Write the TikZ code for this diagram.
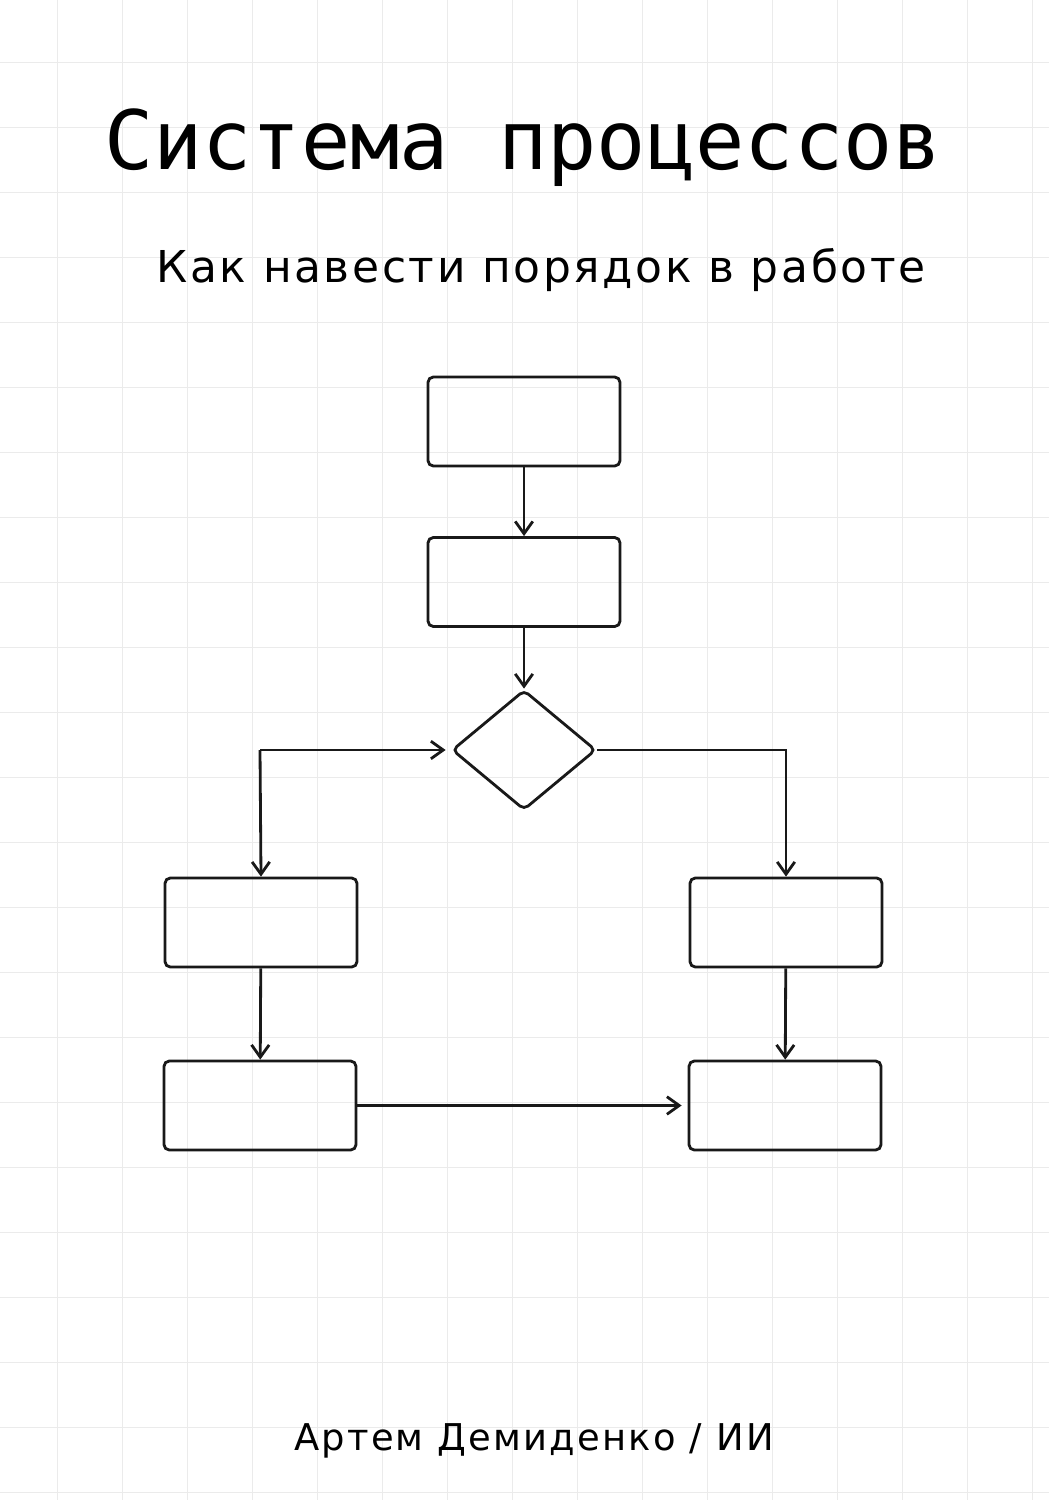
\documentclass[tikz,border=0pt]{standalone}
\usepackage{fontspec}
\setmainfont{DejaVu Sans}
\newfontfamily\monof{DejaVu Sans Mono}
\newfontfamily\spacedf[LetterSpace=6]{DejaVu Sans}
\usetikzlibrary{shapes.geometric,arrows.meta}
\begin{document}
\begin{tikzpicture}[x=0.02cm,y=-0.02cm,
  box/.style={draw=black!90,line width=1.6pt,rounded corners=3pt,minimum width=3.84cm,minimum height=1.78cm,inner sep=0pt},
  dia/.style={draw=black!90,line width=1.6pt,diamond,rounded corners=3pt,minimum width=2.88cm,minimum height=2.4cm,inner sep=0pt,aspect=1.2},
  con/.style={draw=black!90,line width=1.6pt,-{Straight Barb[length=7pt,width=10pt,line width=1.6pt]}}]
\fill[white] (0,0) rectangle (1049,1500);
\useasboundingbox (0,0) rectangle (1049,1500);
\foreach \i in {0,...,16} \draw[black!8,line width=0.5pt] (57+65*\i-65,0) -- (57+65*\i-65,1500);
\foreach \j in {0,...,23} \draw[black!8,line width=0.5pt] (0,62+65*\j-65) -- (1049,62+65*\j-65);
\node (title) at (523,148) {\monof\fontsize{46.6}{52}\selectfont Система процессов};
\node (sub) at (541,270) {\spacedf\fontsize{25}{29}\selectfont Как навести порядок в работе};
\node (auth) at (534,1441) {\spacedf\fontsize{21}{25}\selectfont Артем Демиденко / ИИ};
\node[box] (b1) at (524,421.5) {};
\node[box] (b2) at (524,582) {};
\node[dia] (d) at (524,750) {};
\node[box] (l1) at (261,922.5) {};
\node[box] (r1) at (786,922.5) {};
\node[box] (l2) at (260,1105.5) {};
\node[box] (r2) at (785,1105.5) {};
\coordinate (lc) at (260,750);
\coordinate (rc) at (786,750);
\draw[con] (b1) -- (b2);
\draw[con] (b2) -- (d);
\draw[con] (lc) -- ([xshift=-0.1cm]d.west);
\draw[con] (lc) -- (l1.north);
\draw[con] (d.east) -- (rc) -- (r1.north);
\draw[con] (l1) -- (l2);
\draw[con] (r1) -- (r2);
\draw[con] (l2.east) -- ([xshift=-0.12cm]r2.west);
\end{tikzpicture}
\end{document}
